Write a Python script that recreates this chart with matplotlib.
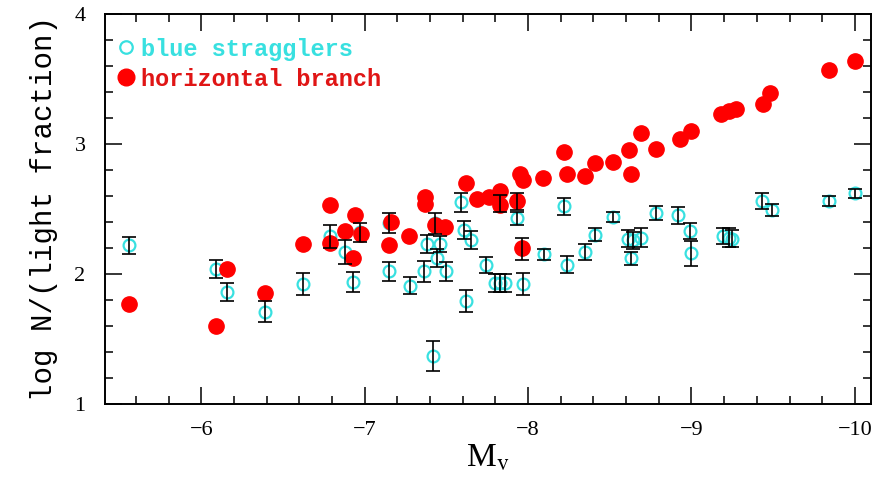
import matplotlib
matplotlib.use("Agg")
import matplotlib.pyplot as plt
from matplotlib.ticker import MultipleLocator
from matplotlib.lines import Line2D

plt.rcParams["mathtext.fontset"] = "stix"

# horizontal branch stars (filled red)
hb_mv = [-5.56, -6.09, -6.16, -6.39, -6.62, -6.79, -6.79, -6.88, -6.94, -6.98,
         -6.93, -7.16, -7.15, -7.27, -7.37, -7.37, -7.43, -7.49, -7.62, -7.69,
         -7.76, -7.83, -7.83, -7.93, -7.95, -7.97, -7.96, -8.09, -8.22, -8.24,
         -8.35, -8.41, -8.52, -8.62, -8.63, -8.69, -8.78, -8.93, -9.00, -9.18,
         -9.23, -9.27, -9.44, -9.48, -9.84, -10.00]
hb_logn = [1.77, 1.60, 2.04, 1.85, 2.23, 2.53, 2.24, 2.33, 2.45, 2.31,
           2.12, 2.40, 2.22, 2.29, 2.59, 2.54, 2.38, 2.36, 2.70, 2.58,
           2.59, 2.64, 2.53, 2.56, 2.77, 2.72, 2.20, 2.74, 2.94, 2.77,
           2.75, 2.85, 2.86, 2.95, 2.77, 3.08, 2.96, 3.04, 3.10, 3.23,
           3.25, 3.27, 3.31, 3.39, 3.57, 3.64]

# blue stragglers (open cyan with error bars)
bs_mv = [-5.56, -6.09, -6.16, -6.39, -6.62, -6.79, -6.88, -6.93, -6.97, -7.15,
         -7.15, -7.28, -7.36, -7.38, -7.42, -7.43, -7.44, -7.46, -7.50, -7.59,
         -7.61, -7.65, -7.62, -7.74, -7.80, -7.83, -7.86, -7.83, -7.93, -7.93,
         -7.96, -7.97, -8.10, -8.22, -8.24, -8.35, -8.41, -8.52, -8.61, -8.64,
         -8.63, -8.69, -8.78, -8.92, -8.99, -9.00, -9.19, -9.23, -9.25, -9.43,
         -9.49, -9.84, -10.00]
bs_logn = [2.22, 2.04, 1.86, 1.71, 1.92, 2.29, 2.17, 1.94, 2.32, 2.02,
           2.39, 1.91, 2.02, 2.23, 1.37, 2.39, 2.12, 2.23, 2.02, 2.55,
           2.34, 2.26, 1.79, 2.07, 1.93, 1.93, 1.93, 2.54, 2.56, 2.43,
           2.19, 1.92, 2.15, 2.52, 2.07, 2.17, 2.30, 2.44, 2.27, 2.26,
           2.12, 2.28, 2.47, 2.45, 2.33, 2.16, 2.29, 2.28, 2.27, 2.56,
           2.49, 2.56, 2.62]
bs_err = [0.065, 0.07, 0.07, 0.08, 0.085, 0.09, 0.09, 0.075, 0.075, 0.075,
          0.075, 0.065, 0.08, 0.07, 0.115, 0.08, 0.07, 0.06, 0.075, 0.075,
          0.07, 0.07, 0.085, 0.06, 0.07, 0.07, 0.07, 0.065, 0.065, 0.05,
          0.085, 0.085, 0.045, 0.065, 0.065, 0.06, 0.05, 0.04, 0.065, 0.065,
          0.05, 0.07, 0.055, 0.065, 0.06, 0.095, 0.06, 0.07, 0.065, 0.06,
          0.045, 0.04, 0.035]

cyan = "#38e0e0"
red = "#ff0000"

fig = plt.figure(figsize=(8.89, 4.91), dpi=100)
ax = fig.add_axes([0.118, 0.177, 0.862, 0.795])

ax.plot(bs_mv, bs_logn, "o", ms=8.5, mfc="none", mec=cyan, mew=1.6, zorder=1)
ax.plot(hb_mv, hb_logn, "o", ms=11, color=red, mec=red, zorder=2)
ax.errorbar(bs_mv, bs_logn, yerr=bs_err, fmt="none", ecolor="black",
            elinewidth=1.2, capsize=4.8, capthick=1.2, zorder=3)

ax.set_xlim(-5.41, -10.1)
ax.set_ylim(1, 4)
ax.xaxis.set_major_locator(MultipleLocator(1))
ax.xaxis.set_minor_locator(MultipleLocator(0.2))
ax.yaxis.set_major_locator(MultipleLocator(1))
ax.yaxis.set_minor_locator(MultipleLocator(0.2))
ax.tick_params(which="both", direction="in", top=True, right=True, width=1.1)
ax.tick_params(which="major", length=12, labelsize=16)
ax.tick_params(axis="x", which="major", pad=12)
ax.tick_params(axis="y", which="major", pad=14)
ax.tick_params(which="minor", length=6)
for lab in ax.get_xticklabels() + ax.get_yticklabels():
    lab.set_family("Liberation Serif")
for s in ax.spines.values():
    s.set_linewidth(1.4)

ax.set_xlabel(r"M$_{\mathrm{v}}$", fontsize=24, family="Liberation Serif", labelpad=2)
ax.set_ylabel("log N/(light fraction)", fontsize=21, family="Liberation Mono",
              labelpad=12)

handles = [Line2D([], [], ls="none", marker="o", ms=9, mfc="none", mec=cyan, mew=1.6),
           Line2D([], [], ls="none", marker="o", ms=12, color=red)]
ax.legend(handles, ["blue stragglers", "horizontal branch"], loc="upper left",
          frameon=False, handlelength=0.6, handletextpad=0.35, labelspacing=0.3,
          borderaxespad=0.2, bbox_to_anchor=(0.0, 0.975),
          prop={"family": "Liberation Mono", "weight": "bold", "size": 17},
          labelcolor=[cyan, "#e01515"])

fig.savefig("out.png", dpi=100)
